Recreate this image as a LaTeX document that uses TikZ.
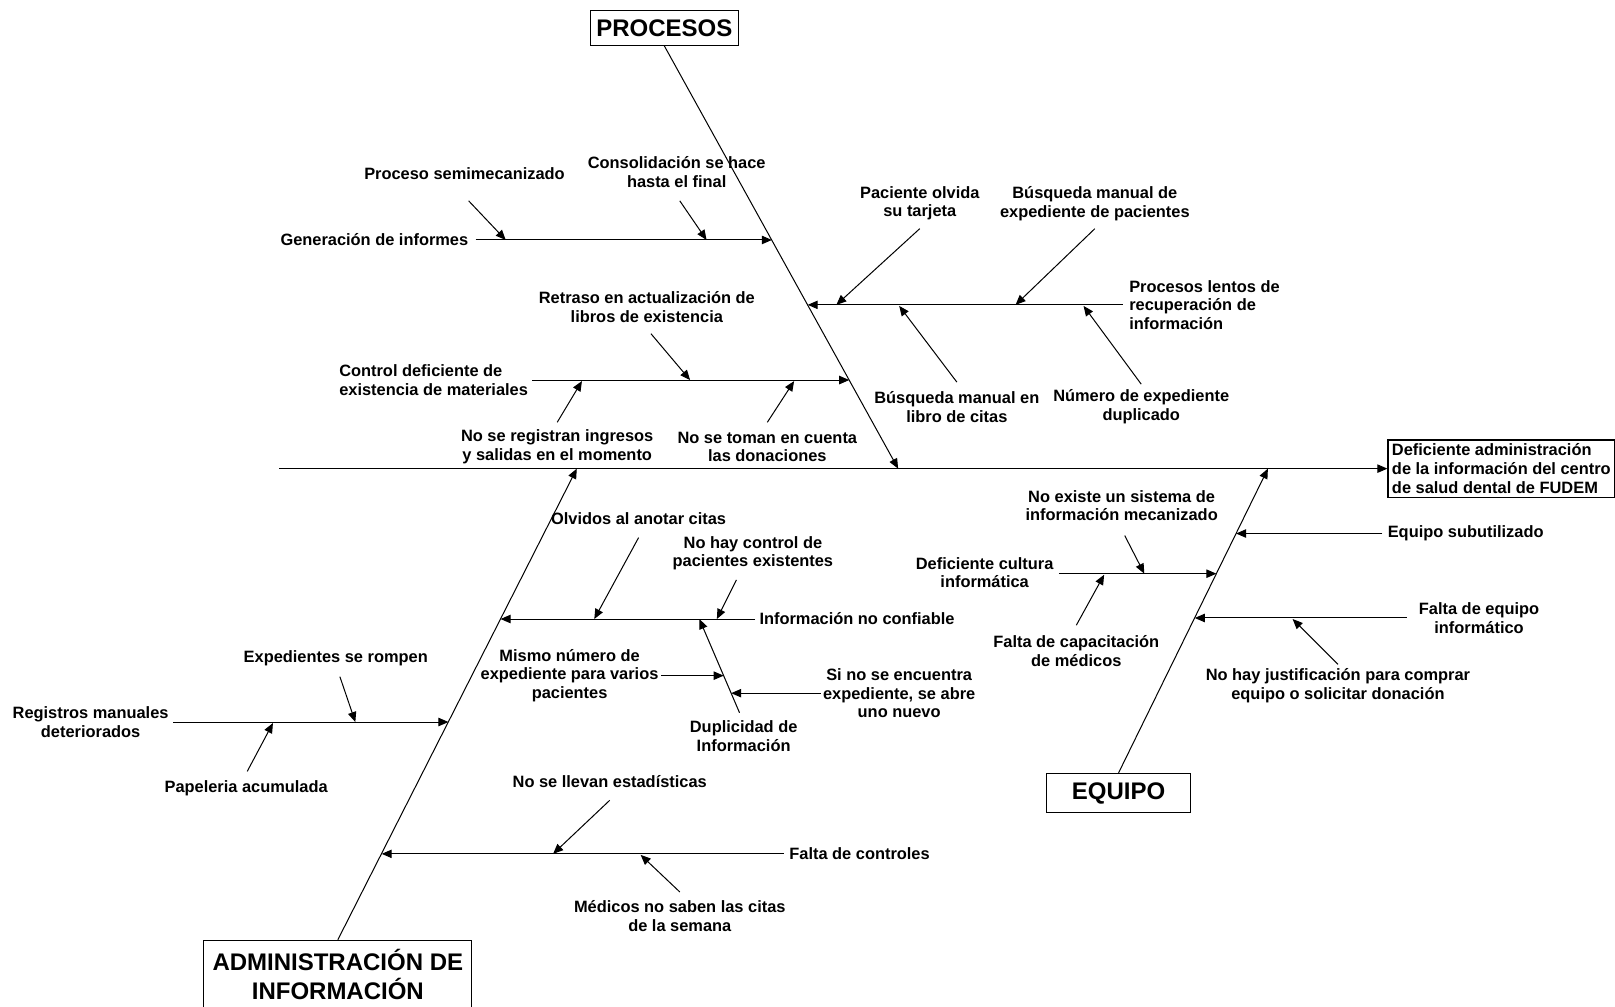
\documentclass[tikz,border=0pt]{standalone}
\usepackage{fontspec}
\setmainfont{Liberation Sans}
\usetikzlibrary{arrows.meta,positioning}

\begin{document}
\begin{tikzpicture}[x=0.515pt,y=-0.515pt,
	every node/.style={inner sep=0pt,align=center,font=\bfseries\fontsize{8.2}{9.3}\selectfont},
	titulo/.style={draw,line width=0.6pt,font=\bfseries\fontsize{12}{14.4}\selectfont},
	flecha/.style={line width=0.5pt,-{Triangle[length=5pt,width=4.2pt]}}]
	\useasboundingbox (0,0) rectangle (1568,977);
	\node [titulo,minimum width=74pt,minimum height=17.5pt] (proc) at (645,27) {PROCESOS};
	\node [titulo,minimum width=72pt,minimum height=19.6pt] (equipo) at (1086,770) {EQUIPO};
	\node [titulo,minimum width=134pt,minimum height=34pt] (admin) at (328,946) {ADMINISTRACIÓN DE\\INFORMACIÓN};
	\node [draw,line width=0.6pt,inner sep=2pt,align=left,anchor=west] (efecto) at (1347,455) {Deficiente administración\\de la información del centro\\de salud dental de FUDEM};
	\coordinate (cola) at (271,455);
	\draw [flecha] (cola) -- (efecto);
	\coordinate (p0) at (872,455);
	\coordinate (a0) at (560,455);
	\coordinate (e0) at (1231,455);
	\draw [flecha] (proc.south) -- (p0);
	\draw [flecha] (admin.north) -- (a0);
	\draw [flecha] (equipo.north) -- (e0);
	% procesos
	\node [anchor=east] (informes) at (455,233) {Generación de informes};
	\node (semimec) at (451,169) {Proceso semimecanizado};
	\node (consolid) at (657,167) {Consolidación se hace\\hasta el final};
	\coordinate (p1) at (749.4,233);
	\coordinate (p1a) at (491,233);
	\coordinate (p1b) at (686,233);
	\coordinate (s1a) at (455,195);
	\coordinate (s1b) at (660,195);
	\draw [flecha,shorten <=3.5pt] (informes.east) -- (p1);
	\draw [flecha] (s1a) -- (p1a);
	\draw [flecha] (s1b) -- (p1b);
	\node [anchor=west,align=left] (lentos) at (1096,296) {Procesos lentos de\\recuperación de\\información};
	\node (olvida) at (893,197.5) {Paciente olvida\\su tarjeta};
	\node (busqexp) at (1063,197.5) {Búsqueda manual de\\expediente de pacientes};
	\node (busqlib) at (929,395) {Búsqueda manual en\\libro de citas};
	\node (numdup) at (1108,395) {Número de expediente\\duplicado};
	\coordinate (p2) at (784.2,296);
	\coordinate (p2a) at (812,296);
	\coordinate (p2b) at (986,296);
	\coordinate (p2c) at (873,297);
	\coordinate (p2d) at (1052,297);
	\coordinate (s2a) at (893,222);
	\coordinate (s2b) at (1063,222);
	\coordinate (s2c) at (929,371);
	\coordinate (s2d) at (1108,373);
	\draw [flecha,shorten <=3pt] (lentos.west) -- (p2);
	\draw [flecha] (s2a) -- (p2a);
	\draw [flecha] (s2b) -- (p2b);
	\draw [flecha] (s2c) -- (p2c);
	\draw [flecha] (s2d) -- (p2d);
	\node [anchor=west,align=left] (control) at (329,369) {Control deficiente de\\existencia de materiales};
	\node (retraso) at (628,298) {Retraso en actualización de\\libros de existencia};
	\node (ingresos) at (541,434) {No se registran ingresos\\y salidas en el momento};
	\node (donac) at (745,434) {No se toman en cuenta\\las donaciones};
	\coordinate (p3) at (824.5,369);
	\coordinate (p3a) at (670,369);
	\coordinate (p3b) at (565,370);
	\coordinate (p3c) at (771,370);
	\coordinate (s3a) at (632,324);
	\coordinate (s3b) at (541,410);
	\coordinate (s3c) at (745,410);
	\draw [flecha,shorten <=2pt] (control.east) -- (p3);
	\draw [flecha] (s3a) -- (p3a);
	\draw [flecha] (s3b) -- (p3b);
	\draw [flecha] (s3c) -- (p3c);
	% administracion de informacion
	\node [anchor=west] (noconf) at (737,601) {Información no confiable};
	\node (olvidos) at (620,504) {Olvidos al anotar citas};
	\node (nohay) at (731,537) {No hay control de\\pacientes existentes};
	\node (duplic) at (722,715) {Duplicidad de\\Información};
	\coordinate (a1) at (486,601);
	\coordinate (a1a) at (577,601);
	\coordinate (a1b) at (696,601);
	\coordinate (a1c) at (679,601);
	\coordinate (t1a) at (620,522);
	\coordinate (t1b) at (715,563);
	\coordinate (t1c) at (718,692);
	\draw [flecha,shorten <=2pt] (noconf.west) -- (a1);
	\draw [flecha] (t1a) -- (a1a);
	\draw [flecha] (t1b) -- (a1b);
	\draw [flecha] (t1c) -- (a1c);
	\node (mismo) at (553,656) {Mismo número de\\expediente para varios\\pacientes};
	\node (sinose) at (873,673) {Si no se encuentra\\expediente, se abre\\uno nuevo};
	\coordinate (d1) at (702.6,656);
	\coordinate (d2) at (709.9,673);
	\coordinate (u1) at (642,656);
	\coordinate (u2) at (797,673);
	\draw [flecha] (u1) -- (d1);
	\draw [flecha] (u2) -- (d2);
	\node (registros) at (88,701) {Registros manuales\\deteriorados};
	\node (rompen) at (326,639) {Expedientes se rompen};
	\node (papeleria) at (239,765) {Papeleria acumulada};
	\coordinate (a2) at (435.4,701);
	\coordinate (a2a) at (345,701);
	\coordinate (a2b) at (265,702);
	\coordinate (t2) at (168,701);
	\coordinate (t2a) at (330,657);
	\coordinate (t2b) at (240,749);
	\draw [flecha] (t2) -- (a2);
	\draw [flecha] (t2a) -- (a2a);
	\draw [flecha] (t2b) -- (a2b);
	\node [anchor=west] (faltactrl) at (766,829) {Falta de controles};
	\node (estad) at (592,759) {No se llevan estadísticas};
	\node (medicos) at (660,889.5) {Médicos no saben las citas\\de la semana};
	\coordinate (a3) at (370.6,829);
	\coordinate (a3a) at (537,829);
	\coordinate (a3b) at (622,830);
	\coordinate (t3a) at (592,777);
	\coordinate (t3b) at (660,866);
	\draw [flecha,shorten <=2.5pt] (faltactrl.west) -- (a3);
	\draw [flecha] (t3a) -- (a3a);
	\draw [flecha] (t3b) -- (a3b);
	% equipo
	\node [anchor=west] (subutil) at (1347,518) {Equipo subutilizado};
	\coordinate (e1) at (1200.1,518);
	\draw [flecha,shorten <=2.5pt] (subutil.west) -- (e1);
	\node (cultura) at (956,556) {Deficiente cultura\\informática};
	\node (noexiste) at (1089,491) {No existe un sistema de\\información mecanizado};
	\node (capacit) at (1045,632) {Falta de capacitación\\de médicos};
	\coordinate (e2) at (1181,557);
	\coordinate (e2a) at (1111,557);
	\coordinate (e2b) at (1072,558);
	\coordinate (q2) at (1028,557);
	\coordinate (q2a) at (1092,520);
	\coordinate (q2b) at (1045,607);
	\draw [flecha] (q2) -- (e2);
	\draw [flecha] (q2a) -- (e2a);
	\draw [flecha] (q2b) -- (e2b);
	\node (faltaeq) at (1436,600) {Falta de equipo\\informático};
	\node (justif) at (1299,666) {No hay justificación para comprar\\equipo o solicitar donación};
	\coordinate (e3) at (1160,600);
	\coordinate (e3a) at (1255,601);
	\coordinate (q3) at (1366,600);
	\coordinate (q3a) at (1299,645);
	\draw [flecha] (q3) -- (e3);
	\draw [flecha] (q3a) -- (e3a);
\end{tikzpicture}
\end{document}
